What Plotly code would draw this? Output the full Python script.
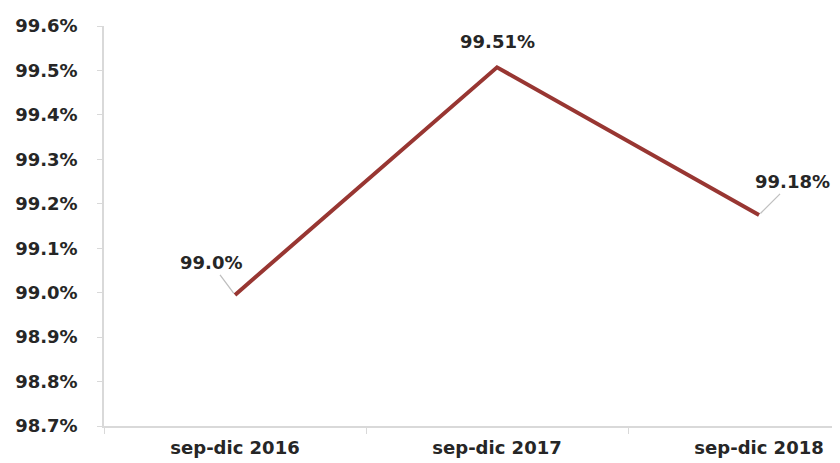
import plotly.graph_objects as go

categories = ["sep-dic 2016", "sep-dic 2017", "sep-dic 2018"]
values = [98.995, 99.507, 99.175]
point_labels = ["99.0%", "99.51%", "99.18%"]
label_offsets = [(-24, -32), (0, -26), (33, -33)]  # pixel offsets of labels from points
y_ticks = [98.7, 98.8, 98.9, 99.0, 99.1, 99.2, 99.3, 99.4, 99.5, 99.6]

FONT = "DejaVu Sans"
TXT = "#262626"
AXC = "#d9d9d9"
FS = 18

fig = go.Figure()
fig.add_trace(go.Scatter(
    x=categories, y=values, mode="lines",
    line=dict(color="#983632", width=4),
    hoverinfo="skip", showlegend=False,
))

for c, v, t, (dx, dy) in zip(categories, values, point_labels, label_offsets):
    if dx == 0:
        fig.add_annotation(x=c, y=v, text=t, showarrow=False, yshift=-dy,
                           font=dict(family=FONT, size=FS, color=TXT, weight="bold"))
    else:
        fig.add_annotation(x=c, y=v, text=t, showarrow=True, arrowhead=0,
                           arrowwidth=1.3, arrowcolor="#bfbfbf", ax=dx, ay=dy,
                           standoff=2,
                           font=dict(family=FONT, size=FS, color=TXT, weight="bold"))

# page body has an 8px margin, so the figure is sized to fill the rest of the window
fig.update_layout(
    width=832, height=455,
    margin=dict(l=96, r=0, t=18, b=37, autoexpand=False),
    paper_bgcolor="white", plot_bgcolor="white",
    font=dict(family=FONT, size=FS, color=TXT),
    xaxis=dict(
        type="category", range=[-0.5, 2.309], automargin=False,
        showline=True, linecolor=AXC, linewidth=1.5,
        ticks="outside", tickson="boundaries", ticklen=6, tickcolor=AXC,
        showgrid=False, zeroline=False,
        tickfont=dict(family=FONT, size=FS, color=TXT, weight="bold"),
        ticklabelstandoff=5,
    ),
    yaxis=dict(
        range=[98.7, 99.6], tickvals=y_ticks, automargin=False,
        ticktext=[f"{v:.1f}%" for v in y_ticks],
        showline=True, linecolor=AXC, linewidth=1.5,
        ticks="outside", ticklen=5, tickcolor=AXC,
        showgrid=False, zeroline=False,
        tickfont=dict(family=FONT, size=FS, color=TXT, weight="bold"),
        ticklabelstandoff=16,
    ),
)

fig.write_html("out.html")
